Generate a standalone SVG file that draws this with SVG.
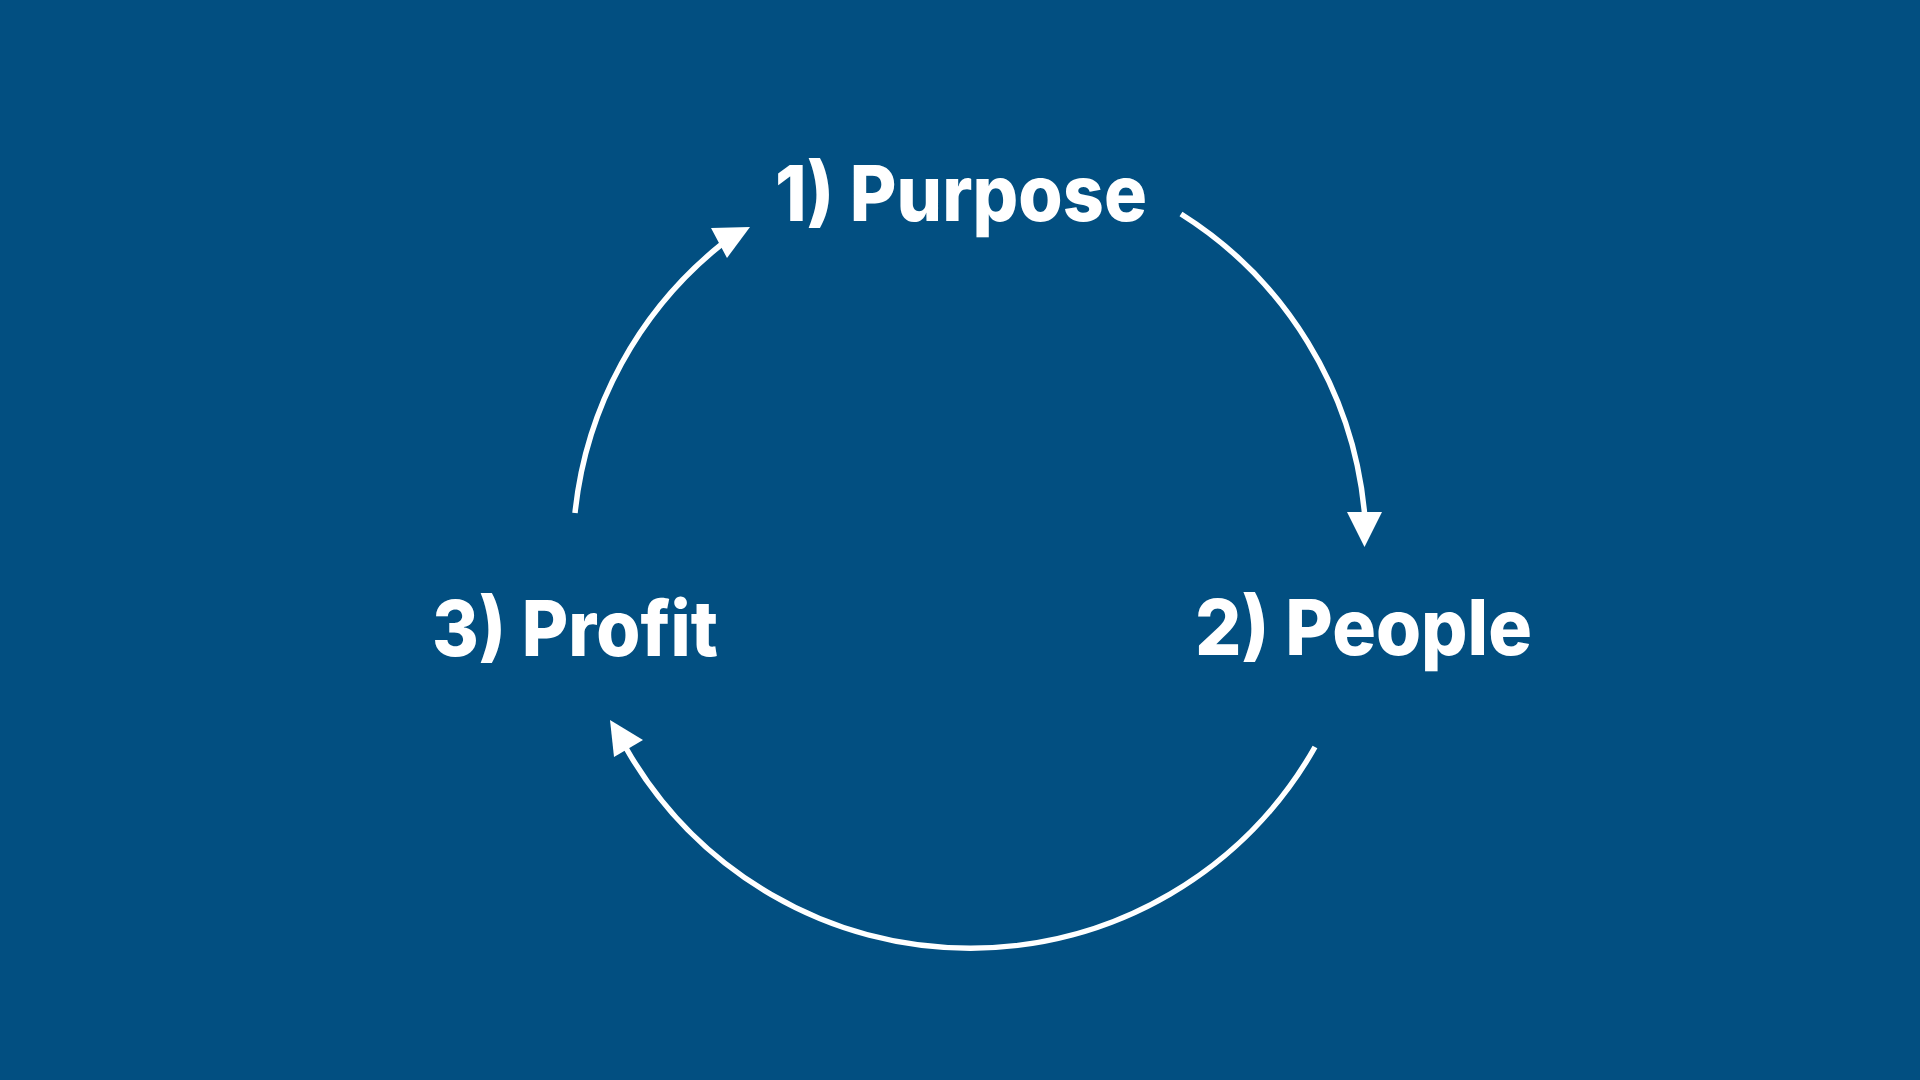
<svg xmlns="http://www.w3.org/2000/svg" width="1920" height="1080" viewBox="0 0 1920 1080">
<style>
.bg{fill:#024F81}
.lbl{font-family:Inter,"Noto Sans","Liberation Sans",sans-serif;font-weight:800;font-size:77px;fill:#FFFFFF}
.arc{fill:none;stroke:#FFFFFF;stroke-width:5.5}
.head{fill:#FFFFFF}
</style>
<rect class="bg" x="0" y="0" width="1920" height="1080"/>
<g id="connectors">
<path class="arc" d="M1181,214 A396,396 0 0 1 1364.5,513"/>
<polygon class="head" points="1347,512 1382,512 1364.5,547"/>
<path class="arc" d="M1315,747 A396,396 0 0 1 626,748"/>
<polygon class="head" points="610,720 643,740 614,757"/>
<path class="arc" d="M575,513 A396,396 0 0 1 722,244"/>
<polygon class="head" points="711,228 750,227 727,258"/>
</g>
<g id="node-purpose"><text class="lbl" x="775" y="221" textLength="372" lengthAdjust="spacingAndGlyphs">1) Purpose</text></g>
<g id="node-people"><text class="lbl" x="1195" y="655" textLength="337" lengthAdjust="spacingAndGlyphs">2) People</text></g>
<g id="node-profit"><text class="lbl" x="432" y="656" textLength="286" lengthAdjust="spacingAndGlyphs">3) Profit</text></g>
</svg>
